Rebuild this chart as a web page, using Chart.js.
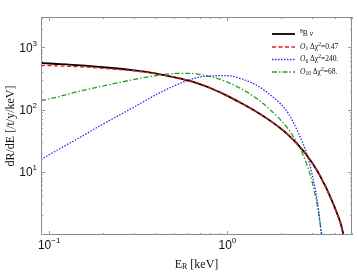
<!DOCTYPE html>
<html><head><meta charset="utf-8">
<script src="https://cdn.jsdelivr.net/npm/chart.js@4/dist/chart.umd.min.js"></script>
<style>html,body{margin:0;padding:0;background:#fff}#wrap{width:358px;height:273px}</style>
</head><body><div id="wrap"><canvas id="c" width="358" height="273"></canvas></div>
<script>
const energies = [0.09,0.1,0.15,0.2,0.3,0.4,0.5,0.6,0.7,0.8,1.0,1.2,1.5,1.8,2.0,2.2,2.5,2.8,3.0,3.2,3.3,3.4,3.6,4.0,4.3,4.5];
const rateB8  = [562,552,516,481,427,379,333,294,257,222,166,126,87.2,61.5,48.9,38.7,26.7,18.0,13.6,10.1,8.65,7.3,5.33,2.65,1.52,0.91];
const rateO1  = [516,510,487,462,420,378,334,297,260,225,168,127,88,62,49.2,38.8,26.7,17.9,13.5,10.0,8.6,7.25,5.25,2.6,1.48,0.88];
const rateO6  = [15.6,18.7,36,58,110,175,239,294,334,347,351,312,235,159,121,86,42,18.5,8.5,3.2,1.58,0.75,null,null,null,null];
const rateO10 = [140,148,199,239,305,353,381,383,367,341,276,215,142,90.4,66.7,48,26.7,12.6,6.5,2.77,1.6,0.88,null,null,null,null];
const xTickVals = [0.1, 1];
const yTickVals = [10, 100, 1000];
const xRange = [0.09, 5];
const yRange = [0.95, 3100];

function pts(arr){ return energies.map((e,i)=>({x:e,y:arr[i]})); }

function drawRich(ctx, x, y, segs, align){
  let w = 0;
  segs.forEach(s=>{ ctx.font = s.font; w += ctx.measureText(s.t).width; });
  let cx = align==='right' ? x - w : align==='center' ? x - w/2 : x;
  segs.forEach(s=>{ ctx.font = s.font; ctx.fillText(s.t, cx, y + (s.dy||0)); cx += ctx.measureText(s.t).width; });
}

const frame = {
  id:'frame',
  afterDraw(chart){
    const ctx = chart.ctx, a = chart.chartArea;
    const xs = chart.scales.x, ys = chart.scales.y;
    ctx.save();
    ctx.strokeStyle = '#8a8a8a'; ctx.lineWidth = 1;
    ctx.strokeRect(a.left+0.5, a.top+0.5, a.right-a.left-1, a.bottom-a.top-1);
    ctx.strokeStyle = '#9a9a9a';
    for (let d=-2; d<=0; d++){
      for (let m=1; m<=9; m++){
        const v = m*Math.pow(10,d);
        if (v < xRange[0] || v > xRange[1]) continue;
        const px = Math.round(xs.getPixelForValue(v))+0.5;
        const L = m===1 ? 4 : 2;
        ctx.beginPath(); ctx.moveTo(px,a.bottom); ctx.lineTo(px,a.bottom-L);
        ctx.moveTo(px,a.top); ctx.lineTo(px,a.top+L); ctx.stroke();
      }
    }
    for (let d=-1; d<=3; d++){
      for (let m=1; m<=9; m++){
        const v = m*Math.pow(10,d);
        if (v < yRange[0] || v > yRange[1]) continue;
        const py = Math.round(ys.getPixelForValue(v))+0.5;
        const L = m===1 ? 4 : 2;
        ctx.beginPath(); ctx.moveTo(a.left,py); ctx.lineTo(a.left+L,py);
        ctx.moveTo(a.right,py); ctx.lineTo(a.right-L,py); ctx.stroke();
      }
    }
    ctx.fillStyle = '#111'; ctx.textBaseline = 'middle';
    const big = '12px "Liberation Sans", Arial, sans-serif';
    const sm = '8px "Liberation Sans", Arial, sans-serif';
    xTickVals.forEach(v=>{
      const px = xs.getPixelForValue(v);
      const e = Math.round(Math.log10(v));
      drawRich(ctx, px, 246, [{t:'10',font:big},{t:(e<0?'\u2212':'')+Math.abs(e),font:sm,dy:-5}], 'center');
    });
    yTickVals.forEach(v=>{
      const py = ys.getPixelForValue(v);
      const e = Math.round(Math.log10(v));
      drawRich(ctx, 37, py+1, [{t:'10',font:big},{t:String(e),font:sm,dy:-5}], 'right');
    });
    const serif = '12px "Liberation Serif", "Times New Roman", serif';
    const serifSm = '8px "Liberation Serif", "Times New Roman", serif';
    drawRich(ctx, (a.left+a.right)/2, 265, [{t:'E',font:serif},{t:'R',font:serifSm,dy:2},{t:' [keV]',font:serif}], 'center');
    ctx.save();
    ctx.translate(11, (a.top+a.bottom)/2);
    ctx.rotate(-Math.PI/2);
    drawRich(ctx, 0, 0, [{t:'dR/dE [/t/y/keV]',font:serif}], 'center');
    ctx.restore();
    const it = 'italic 7.5px "Liberation Serif", "Times New Roman", serif';
    const rm = '7.5px "Liberation Serif", "Times New Roman", serif';
    const rmS = '5.5px "Liberation Serif", "Times New Roman", serif';
    const rows = [
      {ds:0, y:34, segs:[{t:'8',font:rmS,dy:-2.5},{t:'B ',font:rm},{t:'\u03bd',font:it}]},
      {ds:1, y:47, segs:[{t:'O',font:it},{t:'1',font:rmS,dy:2},{t:' \u0394\u03c7',font:rm},{t:'2',font:rmS,dy:-2.5},{t:'=0.47',font:rm}]},
      {ds:2, y:59.5, segs:[{t:'O',font:it},{t:'6',font:rmS,dy:2},{t:' \u0394\u03c7',font:rm},{t:'2',font:rmS,dy:-2.5},{t:'=240.',font:rm}]},
      {ds:3, y:72, segs:[{t:'O',font:it},{t:'10',font:rmS,dy:2},{t:' \u0394\u03c7',font:rm},{t:'2',font:rmS,dy:-2.5},{t:'=68.',font:rm}]}
    ];
    rows.forEach(r=>{
      const d = chart.data.datasets[r.ds];
      ctx.save();
      ctx.strokeStyle = d.borderColor; ctx.lineWidth = d.borderWidth;
      ctx.setLineDash(d.borderDash || []);
      ctx.beginPath(); ctx.moveTo(272, r.y); ctx.lineTo(295, r.y); ctx.stroke();
      ctx.restore();
      ctx.fillStyle = '#111';
      drawRich(ctx, 300, r.y, r.segs, 'left');
    });
    ctx.restore();
  }
};

new Chart(document.getElementById('c'), {
  type:'line',
  data:{ datasets:[
    {label:'8B nu', data:pts(rateB8), borderColor:'#000', borderWidth:1.8, order:2},
    {label:'O1', data:pts(rateO1), borderColor:'rgb(235,25,25)', borderWidth:1.3, borderDash:[4,2.5], order:1},
    {label:'O6', data:pts(rateO6), borderColor:'rgb(40,40,240)', borderWidth:1.3, borderDash:[1.5,1.5], order:3},
    {label:'O10', data:pts(rateO10), borderColor:'rgb(30,165,30)', borderWidth:1.3, borderDash:[5,2,1.5,2], order:3}
  ]},
  options:{
    responsive:false, animation:false,
    layout:{padding:{left:41,right:6,top:17,bottom:38}},
    elements:{point:{radius:0}, line:{cubicInterpolationMode:'monotone', fill:false}},
    plugins:{legend:{display:false}, tooltip:{enabled:false}},
    scales:{
      x:{type:'logarithmic', min:xRange[0], max:xRange[1], display:false},
      y:{type:'logarithmic', min:yRange[0], max:yRange[1], display:false}
    }
  },
  plugins:[frame]
});
</script></body></html>
